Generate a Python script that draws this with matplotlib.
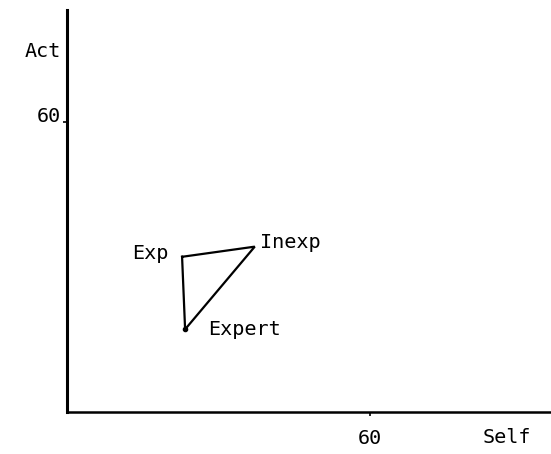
import matplotlib.pyplot as plt

# Group positions (Self rating vs Act rating)
groups = ['Exp', 'Inexp', 'Expert']
selfScore = [47.6, 52.4, 47.8]
actScore = [50.7, 51.4, 45.7]
xTicks = [60]
yTicks = [60]

fontName = 'DejaVu Sans Mono'
fontSize = 14.5

fig = plt.figure(figsize=(5.51, 4.54), dpi=100)
ax = fig.add_axes([0.1216, 0.0925, 0.8766, 0.885])

# closed triangle through the three groups
xs = selfScore + [selfScore[0]]
ys = actScore + [actScore[0]]
ax.plot(xs, ys, color='black', linewidth=1.6, solid_joinstyle='miter')
ax.plot(selfScore[2], actScore[2], 'o', color='black', markersize=3)

# label offsets in pixels
offsets = {'Exp': (-14, 3, 'right'), 'Inexp': (5, 4, 'left'), 'Expert': (23, 0, 'left')}
for name, x, y in zip(groups, selfScore, actScore):
    dx, dy, ha = offsets[name]
    ax.annotate(name, (x, y), xytext=(dx, dy), textcoords='offset pixels',
                ha=ha, va='center', family=fontName, fontsize=fontSize)

ax.set_xlim(40, 71.9)
ax.set_ylim(40, 67.7)

ax.spines['top'].set_visible(False)
ax.spines['right'].set_visible(False)
ax.spines['left'].set_linewidth(2.2)
ax.spines['bottom'].set_linewidth(1.8)

ax.set_xticks(xTicks)
ax.set_yticks(yTicks)
ax.set_xticklabels([str(t) for t in xTicks], family=fontName, fontsize=fontSize)
ax.set_yticklabels([str(t) for t in yTicks], family=fontName, fontsize=fontSize)
ax.tick_params(axis='x', length=3, width=1.2, pad=9)
ax.tick_params(axis='y', length=3, width=1.2, pad=1)
for lab in ax.get_yticklabels():
    lab.set_verticalalignment('baseline')

ax.text(-0.012, 0.897, 'Act', transform=ax.transAxes, ha='right', va='center',
        family=fontName, fontsize=fontSize)
ax.text(0.91, -0.063, 'Self', transform=ax.transAxes, ha='center', va='center',
        family=fontName, fontsize=fontSize)

fig.savefig('out.png', dpi=100)
